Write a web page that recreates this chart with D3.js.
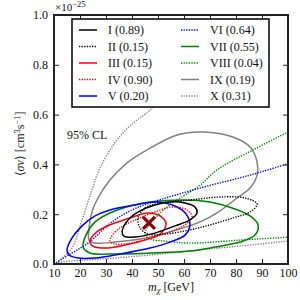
<!DOCTYPE html>
<html>
<head>
<meta charset="utf-8">
<script src="https://cdn.jsdelivr.net/npm/d3@7"></script>
<style>
  body { margin: 0; background: #fff; }
</style>
</head>
<body>
<svg id="chart" width="300" height="300"></svg>
<script>
// contour points: [m_chi (GeV), <sigma v> (1e-25 cm^3 s^-1)]
const contourI = [[36.2,0.129],[38.5,0.177],[43.1,0.213],[48.8,0.237],[54.6,0.249],[60.4,0.245],[64.2,0.229],[65.0,0.205],[62.3,0.177],[56.5,0.153],[48.8,0.124],[41.2,0.108],[36.9,0.112]];
const contourII = [[42.3,0.185],[45.0,0.225],[50.8,0.245],[62.3,0.257],[73.8,0.269],[83.5,0.265],[88.1,0.241],[85.4,0.209],[78.8,0.185],[70.0,0.157],[62.3,0.137],[52.7,0.120],[46.2,0.120],[43.1,0.145]];
const contourIII = [[23.8,0.092],[26.5,0.129],[31.5,0.157],[39.2,0.185],[46.2,0.205],[50.8,0.193],[53.1,0.161],[50.8,0.120],[46.2,0.100],[37.3,0.076],[29.6,0.064],[25.0,0.072]];
const contourIV = [[31.5,0.092],[33.5,0.129],[37.3,0.157],[43.1,0.185],[48.8,0.209],[55.4,0.229],[61.2,0.217],[63.1,0.189],[60.4,0.157],[54.6,0.129],[46.9,0.104],[39.2,0.084],[33.5,0.080]];
const contourV = [[15.0,0.056],[16.9,0.104],[20.8,0.153],[25.8,0.193],[31.5,0.217],[41.2,0.237],[48.8,0.249],[56.5,0.233],[60.8,0.201],[62.3,0.157],[60.4,0.116],[54.6,0.088],[46.9,0.064],[35.4,0.040],[25.8,0.024],[19.2,0.024],[15.8,0.036]];
const contourVI = [[10,0],[16.2,0.040],[23.1,0.084],[32.3,0.169],[40.0,0.217],[46.9,0.245],[66.2,0.305],[85.4,0.357],[100,0.402],[104.6,0.414]];
const contourVII = [[21.2,0.068],[22.3,0.116],[25.8,0.169],[31.5,0.205],[39.2,0.233],[46.9,0.249],[59.6,0.257],[70.0,0.249],[79.6,0.221],[85.4,0.193],[88.5,0.157],[87.3,0.116],[81.5,0.088],[71.9,0.068],[62.3,0.052],[46.9,0.044],[31.5,0.040],[23.8,0.044]];
const contourVIII = [[104.6,0.554],[100,0.530],[86.5,0.458],[72.7,0.378],[66.2,0.317],[53.5,0.229],[45.8,0.145],[45.0,0.116],[46.9,0.100],[52.7,0.092],[62.3,0.084],[81.5,0.096],[100,0.108],[104.6,0.112]];
const contourIX = [[23.5,0.096],[23.5,0.145],[24.6,0.209],[26.5,0.257],[31.5,0.337],[38.1,0.406],[45.8,0.458],[57.3,0.518],[67.3,0.530],[78.8,0.510],[85.4,0.470],[88.1,0.410],[88.1,0.357],[85.4,0.305],[80.4,0.265],[72.7,0.205],[66.2,0.169],[54.6,0.129],[43.1,0.100],[33.5,0.088],[25.8,0.084]];
const contourX = [[52.7,0.699],[46.9,0.618],[40.4,0.566],[34.2,0.498],[27.7,0.386],[24.6,0.297],[20.8,0.177],[16.9,0.064],[13.1,0.024],[11.5,0.008],[16.2,0.012],[27.7,0.020],[46.9,0.036],[65.0,0.056],[81.5,0.072],[100,0.092],[104.6,0.096]];

const bestFit = [46.5, 0.165];

const labels = ["I (0.89)","II (0.15)","III (0.15)","IV (0.90)","V (0.20)","VI (0.64)","VII (0.55)","VIII (0.04)","IX (0.19)","X (0.31)"];
const colors = ["#000","#000","#f00","#f00","#00f","#00f","#008000","#008000","#808080","#808080"];
const dotted = [false,true,false,true,false,true,false,true,false,true];
const closed = [true,true,true,true,true,false,true,false,true,false];
const contours = [contourI,contourII,contourIII,contourIV,contourV,contourVI,contourVII,contourVIII,contourIX,contourX];

const xTicks = [10,20,30,40,50,60,70,80,90,100];
const yTicks = [0,0.2,0.4,0.6,0.8,1.0];

const FONT = "Liberation Serif";
const margin = {top: 15, left: 54};
const w = 234, h = 249;

const svg = d3.select("#chart");
const g = svg.append("g").attr("transform", `translate(${margin.left},${margin.top})`);

const x = d3.scaleLinear().domain([10,100]).range([0,w]);
const y = d3.scaleLinear().domain([0,1]).range([h,0]);

g.append("clipPath").attr("id","clip")
  .append("rect").attr("width", w).attr("height", h);

const plot = g.append("g").attr("clip-path","url(#clip)");

// draw in reverse so I ends on top
d3.range(contours.length).reverse().forEach(i => {
  const line = d3.line()
    .x(d => x(d[0]))
    .y(d => y(d[1]))
    .curve(closed[i] ? d3.curveCatmullRomClosed.alpha(0.5) : d3.curveCatmullRom.alpha(0.5));
  plot.append("path")
    .datum(contours[i])
    .attr("d", line)
    .attr("fill","none")
    .attr("stroke", colors[i])
    .attr("stroke-width", dotted[i] ? 1.4 : 1.5)
    .attr("stroke-dasharray", dotted[i] ? "1.3,1.3" : null);
});

// best fit marker
const bx = x(bestFit[0]), by = y(bestFit[1]), s = 6;
plot.append("path")
  .attr("d", `M${bx-s},${by-s}L${bx+s},${by+s}M${bx-s},${by+s}L${bx+s},${by-s}`)
  .attr("stroke","#8b0000").attr("stroke-width",3).attr("fill","none");

// axes, ticks inward
const axB = g.append("g").attr("transform",`translate(0,${h})`)
  .call(d3.axisBottom(x).tickValues(xTicks).tickSize(-5).tickPadding(4.5));
const axT = g.append("g")
  .call(d3.axisTop(x).tickValues(xTicks).tickSize(-5).tickFormat(""));
const axL = g.append("g")
  .call(d3.axisLeft(y).tickValues(yTicks).tickSize(-5).tickPadding(6).tickFormat(d3.format(".1f")));
const axR = g.append("g").attr("transform",`translate(${w},0)`)
  .call(d3.axisRight(y).tickValues(yTicks).tickSize(-5).tickFormat(""));

[axB,axT,axL,axR].forEach(a => {
  a.attr("font-family", FONT).attr("font-size", 12);
  a.select(".domain").remove();
  a.selectAll(".tick line").attr("stroke","#222").attr("stroke-width",1);
  a.selectAll(".tick text").attr("fill","#111");
});

g.append("rect").attr("width",w).attr("height",h)
  .attr("fill","none").attr("stroke","#222").attr("stroke-width",2);

// legend
const lg = g.append("g").attr("transform","translate(18,4)");
lg.append("rect").attr("width",197).attr("height",88)
  .attr("fill","#fff").attr("stroke","#000").attr("stroke-width",1.5);
labels.forEach((lab,i) => {
  const col = Math.floor(i/5), row = i%5;
  const lx = col ? 109 : 7, ly = 11 + row*16.5;
  lg.append("line").attr("x1",lx).attr("x2",lx+18).attr("y1",ly).attr("y2",ly)
    .attr("stroke",colors[i]).attr("stroke-width",dotted[i]?1.4:1.5)
    .attr("stroke-dasharray", dotted[i] ? "1.3,1.3" : null);
  lg.append("text").attr("x", lx+29).attr("y", ly+4)
    .attr("font-family", FONT).attr("font-size",12).attr("fill","#111").text(lab);
});

// annotation
g.append("text").attr("x",13).attr("y",124).attr("font-family", FONT).attr("font-size",12).attr("fill","#111").text("95% CL");

// exponent label
const ex = svg.append("text").attr("x",55).attr("y",11).attr("font-family", FONT).attr("font-size",11).attr("fill","#111");
ex.append("tspan").text("×10");
ex.append("tspan").attr("dy",-4).attr("font-size",8.5).text("−25");

// x label
const xl = svg.append("text").attr("x",171).attr("y",291).attr("text-anchor","middle")
  .attr("font-family", FONT).attr("font-size",12).attr("fill","#111");
xl.append("tspan").attr("font-style","italic").text("m");
xl.append("tspan").attr("dy",2).attr("font-size",8.5).attr("font-style","italic").text("χ");
xl.append("tspan").attr("dy",-2).text(" [GeV]");

// y label
const yl = svg.append("text").attr("transform","translate(24,144) rotate(-90)")
  .attr("text-anchor","middle").attr("font-family", FONT).attr("font-size",12).attr("fill","#111");
yl.append("tspan").text("⟨");
yl.append("tspan").attr("font-style","italic").text("σv");
yl.append("tspan").text("⟩ [cm");
yl.append("tspan").attr("dy",-4).attr("font-size",8.5).text("3");
yl.append("tspan").attr("dy",4).text("s");
yl.append("tspan").attr("dy",-4).attr("font-size",8.5).text("−1");
yl.append("tspan").attr("dy",4).text("]");
</script>
</body>
</html>
